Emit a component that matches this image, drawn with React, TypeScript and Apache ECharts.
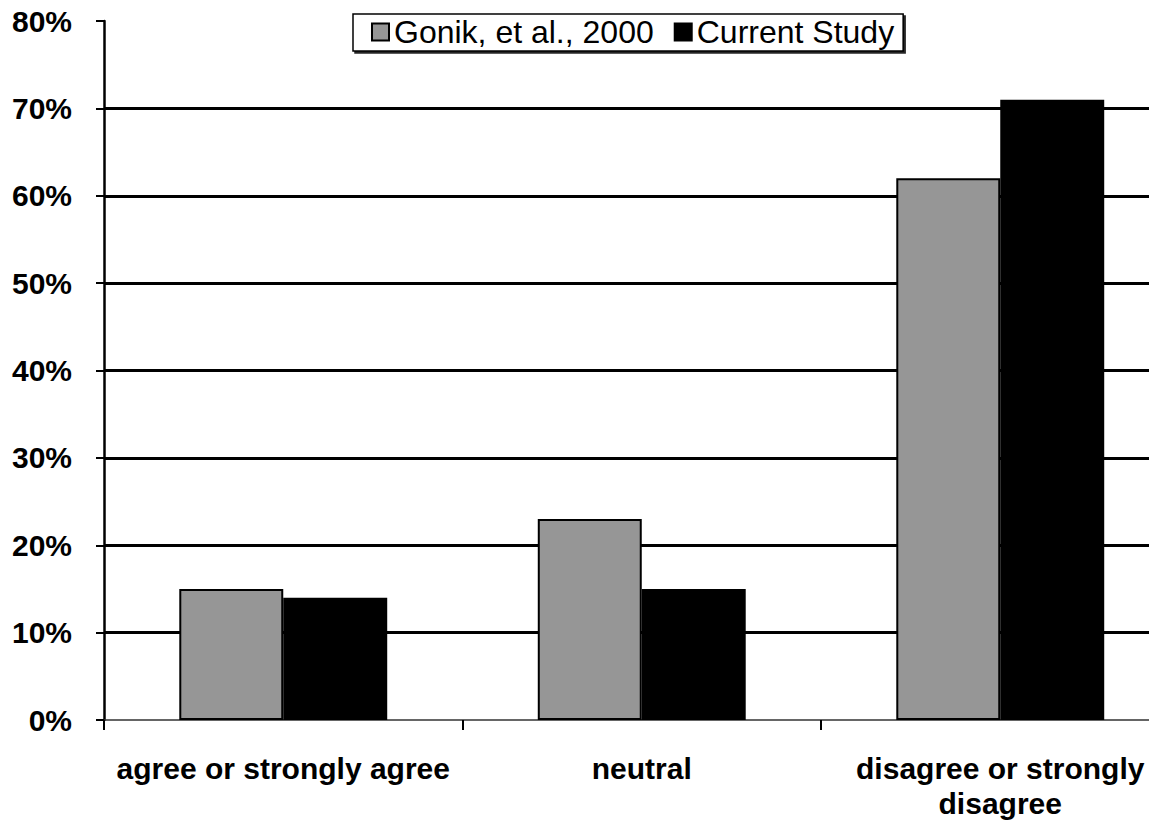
import React, { useEffect, useRef } from "react";
import * as echarts from "echarts";

const categories = ["agree or strongly agree", "neutral", "disagree or strongly\ndisagree"];
const seriesNames = ["Gonik, et al., 2000", "Current Study"];
const gonik = [15, 23, 62];
const current = [14, 15, 71];
const gridValues = [10, 20, 30, 40, 50, 60, 70];
const yMin = 0;
const yMax = 80;
const yInterval = 10;

const FONT = '"Liberation Sans", Arial, sans-serif';

export default function App() {
  const ref = useRef<HTMLDivElement>(null);
  useEffect(() => {
    if (!ref.current) return;
    const chart = echarts.init(ref.current, null, { renderer: "svg" });
    chart.setOption({
      animation: false,
      backgroundColor: "#ffffff",
      textStyle: { fontFamily: FONT },
      legend: {
        left: 353,
        top: 14,
        orient: "horizontal",
        icon: "rect",
        itemWidth: 17,
        itemHeight: 17,
        itemGap: 20,
        padding: [2, 9, 3, 18],
        borderColor: "#000",
        borderWidth: 1.5,
        backgroundColor: "#fff",
        shadowColor: "rgba(0,0,0,0.85)",
        shadowBlur: 0,
        shadowOffsetX: 2,
        shadowOffsetY: 2,
        textStyle: { fontFamily: FONT, fontSize: 32, color: "#000", padding: [0, 0, 0, 0] },
        data: seriesNames,
      },
      grid: { left: 104, top: 21, width: 1075.5, height: 699 },
      xAxis: {
        type: "category",
        data: categories,
        axisLine: { show: true, lineStyle: { color: "#333", width: 1.5 } },
        axisTick: { show: true, alignWithLabel: false, length: 10, lineStyle: { color: "#000", width: 2 } },
        axisLabel: {
          interval: 0,
          margin: 31,
          fontFamily: FONT,
          fontSize: 30,
          fontWeight: "bold",
          color: "#000",
          lineHeight: 35,
        },
        splitLine: { show: false },
      },
      yAxis: {
        type: "value",
        min: yMin,
        max: yMax,
        interval: yInterval,
        axisLine: { show: true, lineStyle: { color: "#000", width: 2.5 } },
        axisTick: { show: true, length: 8, lineStyle: { color: "#000", width: 2 } },
        axisLabel: {
          formatter: "{value}%",
          margin: 32,
          fontFamily: FONT,
          fontSize: 30,
          fontWeight: "bold",
          color: "#000",
        },
        splitLine: { show: false },
      },
      series: [
        {
          name: seriesNames[0],
          type: "bar",
          data: gonik,
          barGap: "0%",
          barCategoryGap: "42%",
          itemStyle: { color: "#969696", borderColor: "#000", borderWidth: 2 },
          markLine: {
            silent: true,
            symbol: "none",
            z: 1,
            label: { show: false },
            lineStyle: { color: "#000", width: 3, type: "solid" },
            data: gridValues.map((v) => ({ yAxis: v })),
          },
        },
        {
          name: seriesNames[1],
          type: "bar",
          data: current,
          barGap: "0%",
          barCategoryGap: "42%",
          itemStyle: { color: "#000", borderColor: "#000", borderWidth: 2 },
        },
      ],
    });
    return () => chart.dispose();
  }, []);
  return (
    <div
      ref={ref}
      style={{ position: "fixed", left: 0, top: 0, width: 1190, height: 823 }}
    />
  );
}
